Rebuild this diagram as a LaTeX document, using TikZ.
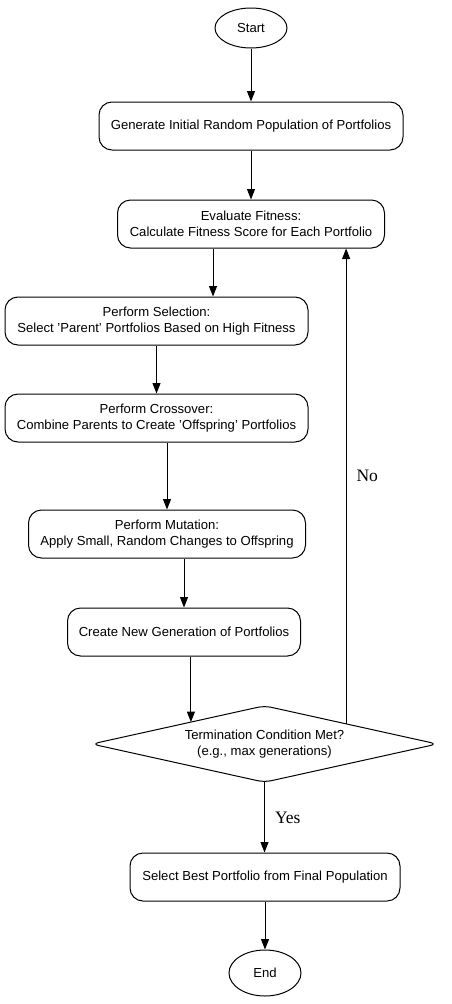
\documentclass[tikz,border=0pt]{standalone}
\usepackage{fontspec}
\setmainfont{Liberation Serif}
\setsansfont{Liberation Sans}
\usetikzlibrary{shapes.geometric,arrows.meta,calc}
\begin{document}
\begin{tikzpicture}[x=1pt,y=-1pt,
  every node/.style={font=\sffamily\fontsize{13.1}{16}\selectfont, align=center, inner sep=0pt},
  procbox/.style={draw, line width=1pt, rounded corners=13pt},
  term/.style={draw, line width=1pt, ellipse},
  decide/.style={rectangle},
  arr/.style={line width=1pt, -{Triangle[length=10.5pt,width=8pt]}},
  elabel/.style={font=\rmfamily\fontsize{17.5}{20}\selectfont}
]
\useasboundingbox (0,0) rectangle (451,1004);

\node[term, minimum width=72pt, minimum height=40pt] (start) at (251,28) {Start};
\node[procbox, minimum width=304pt, minimum height=48pt] (b1) at (251,126) {Generate Initial Random Population of Portfolios};
\node[procbox, minimum width=267pt, minimum height=48pt] (b2) at (251,224) {Evaluate Fitness:\\Calculate Fitness Score for Each Portfolio};
\node[procbox, minimum width=303pt, minimum height=48pt] (b3) at (156.5,321) {Perform Selection:\\Select 'Parent' Portfolios Based on High Fitness};
\node[procbox, minimum width=303pt, minimum height=48pt] (b4) at (156.5,418) {Perform Crossover:\\Combine Parents to Create 'Offspring' Portfolios};
\node[procbox, minimum width=277pt, minimum height=48pt] (b5) at (167,534) {Perform Mutation:\\Apply Small, Random Changes to Offspring};
\node[procbox, minimum width=233pt, minimum height=48pt] (b6) at (184,632) {Create New Generation of Portfolios};
\node[decide, minimum width=345pt, minimum height=76pt] (d) at (264.5,744) {Termination Condition Met?\\(e.g., max generations)};
\draw[line width=1pt, rounded corners=7pt] (d.north) -- (d.east) -- (d.south) -- (d.west) -- cycle;
\node[procbox, minimum width=270pt, minimum height=48pt] (b7) at (265,877) {Select Best Portfolio from Final Population};
\node[term, minimum width=72pt, minimum height=46pt] (end) at (265,973) {End};

\draw[arr] (start) -- (b1);
\draw[arr] (b1) -- (b2);
\draw[arr] ([xshift=-38pt]b2.south) -- ([xshift=-38pt]b2.south |- b3.north);
\draw[arr] (b3.south -| b4.north) -- (b4.north);
\draw[arr] (b5.north |- b4.south) -- (b5.north);
\draw[arr] (b6.north |- b5.south) -- (b6.north);
\coordinate (din) at ($(d.west)!0.574!(d.north)$);
\draw[arr] (b6.south -| din) -- (din);
\draw[arr] (d.south) -- (b7.north -| d.south) node[midway, right=10pt, elabel] (yes) {Yes};
\draw[arr] (b7) -- (end);
\coordinate (dout) at ($(d.north)!0.4725!(d.east)$);
\draw[arr] (dout) -- (dout |- b2.south) node[pos=0.521, right=10pt, elabel] (no) {No};
\end{tikzpicture}
\end{document}
